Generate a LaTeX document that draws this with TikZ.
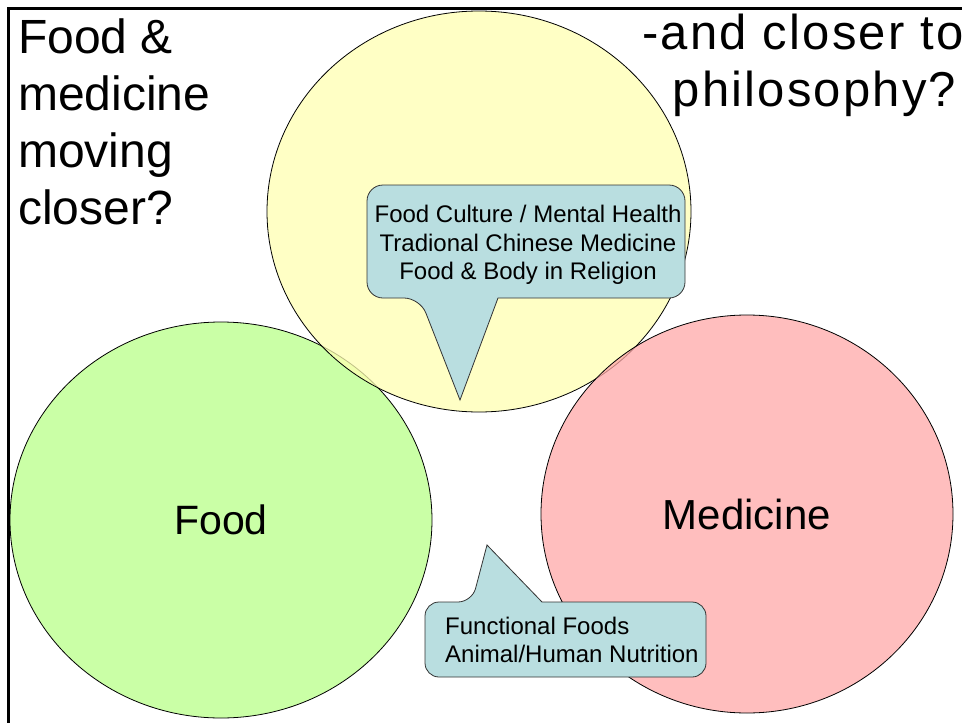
\documentclass[tikz,border=0pt]{standalone}
\usepackage{fontspec}
\setmainfont{Liberation Sans}
\newfontfamily\widefont[LetterSpace=4.5]{Liberation Sans}
\usetikzlibrary{shapes.geometric}

\definecolor{foodgreen}{HTML}{B8FF88}
\definecolor{philyellow}{HTML}{FFFFB2}
\definecolor{medred}{HTML}{FFA8A8}
\definecolor{calloutblue}{HTML}{B9DEE0}

\begin{document}
\begin{tikzpicture}[x=1pt, y=-1pt,
    set/.style={ellipse, draw=black, line width=0.8pt, fill opacity=0.75, text opacity=1, font=\fontsize{41}{49}\selectfont},
    bubble/.style={draw=black!80, line width=0.8pt, fill=calloutblue},
    bubbletext/.style={font=\fontsize{24}{28.5}\selectfont, inner sep=0pt},
    question/.style={font=\fontsize{48}{57}\selectfont, inner sep=0pt}]
    \useasboundingbox (0,0) rectangle (962,723);
    \draw[line width=3pt] (8,723) |- (962,8.5);

    \node[set, fill=foodgreen, minimum width=422pt, minimum height=396pt] (food) at (221,520) {Food};
    \node[set, fill=philyellow, minimum width=424pt, minimum height=401pt] (phil) at (479,211.5) {};
    \node[set, fill=medred, minimum width=412pt, minimum height=398pt, font=\fontsize{42}{49}\selectfont] (med) at (747,514) {Medicine};

    \path[bubble] (367,240) [rounded corners=16pt] -- (367,298) -- (420,298) [sharp corners] -- (460,400) -- (498,298) [rounded corners=16pt] -- (685,298) -- (685,185) -- (367,185) -- cycle;
    \node[bubbletext, align=center] (culture) at (528,245) {Food Culture / Mental Health\\Tradional Chinese Medicine\\Food \& Body in Religion};

    \path[bubble] (425,640) [rounded corners=14pt] -- (425,602) -- (472,602) [sharp corners] -- (487,545) -- (542,602) [rounded corners=14pt] -- (706,602) -- (706,677) -- (425,677) -- cycle;
    \node[bubbletext, align=left, anchor=west] (nutrition) at (445,640) {Functional Foods\\Animal/Human Nutrition};

    \node[question, align=left, anchor=north west] (closer) at (18,18.5) {Food \&\\medicine\\moving\\closer?};
    \node[question, font=\fontsize{49}{57}\widefont, align=right, anchor=north east] (philo) at (961.5,14) {-and closer to\kern-2.2pt\\philosophy?\hspace*{5pt}};
\end{tikzpicture}
\end{document}
